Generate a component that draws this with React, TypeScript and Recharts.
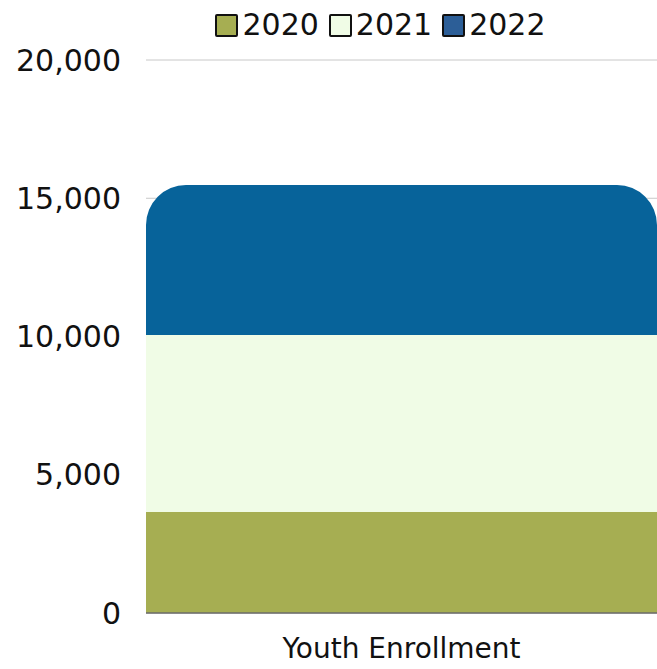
import React from "react";
import { BarChart, Bar, XAxis, YAxis, CartesianGrid } from "recharts";

const categories = ["Youth Enrollment"];
const values2020 = [3650];
const values2021 = [6400];
const values2022 = [5430];
const yTicks = [0, 5000, 10000, 15000, 20000];

const seriesNames = ["2020", "2021", "2022"];
const barColors = ["#A6AE52", "#F0FCE6", "#07639A"];
const legendColors = ["#A6AE52", "#F0FCE6", "#2C5E97"];

const data = categories.map((c, i) => ({
  name: c,
  y2020: values2020[i],
  y2021: values2021[i],
  y2022: values2022[i],
}));

const FONT = "'DejaVu Sans', sans-serif";

const LegendBox = () => (
  <div
    style={{
      position: "absolute",
      top: 8,
      left: 0,
      width: 657,
      display: "flex",
      justifyContent: "center",
      alignItems: "center",
      fontFamily: FONT,
      fontSize: 30,
      lineHeight: "34px",
      color: "#111",
      gap: 10,
      paddingLeft: 104,
      boxSizing: "border-box",
    }}
  >
    {seriesNames.map((n, i) => (
      <div key={n} style={{ display: "flex", alignItems: "center" }}>
        <span
          style={{
            display: "inline-block",
            width: 23,
            height: 23,
            background: legendColors[i],
            border: "2px solid #111",
            borderRadius: 2,
            marginRight: 4,
            boxSizing: "border-box",
          }}
        />
        <span>{n}</span>
      </div>
    ))}
  </div>
);

export default function App() {
  return (
    <div style={{ position: "absolute", left: 0, top: 0, width: 657, height: 669, background: "#fff" }}>
      <BarChart
        width={657}
        height={669}
        data={data}
        margin={{ top: 60, right: 0, bottom: 0, left: 0 }}
        barCategoryGap={0}
      >
        <CartesianGrid vertical={false} stroke="#C8C8C8" strokeWidth={1} />
        <XAxis
          dataKey="name"
          height={56}
          tickLine={false}
          axisLine={{ stroke: "#6B6B6B", strokeWidth: 1.5 }}
          tick={{ fill: "#111", fontSize: 28, fontFamily: FONT }}
          tickMargin={19}
        />
        <YAxis
          width={146}
          domain={[0, 20000]}
          ticks={yTicks}
          tickLine={false}
          axisLine={false}
          tickSize={0}
          tickMargin={25}
          tickFormatter={(v: number) => v.toLocaleString("en-US")}
          tick={{ fill: "#111", fontSize: 30, fontFamily: FONT }}
        />
        <Bar dataKey="y2020" name="2020" stackId="a" fill={barColors[0]} isAnimationActive={false} />
        <Bar dataKey="y2021" name="2021" stackId="a" fill={barColors[1]} isAnimationActive={false} />
        <Bar
          dataKey="y2022"
          name="2022"
          stackId="a"
          fill={barColors[2]}
          radius={[40, 40, 0, 0]}
          isAnimationActive={false}
        />
      </BarChart>
      <LegendBox />
    </div>
  );
}
